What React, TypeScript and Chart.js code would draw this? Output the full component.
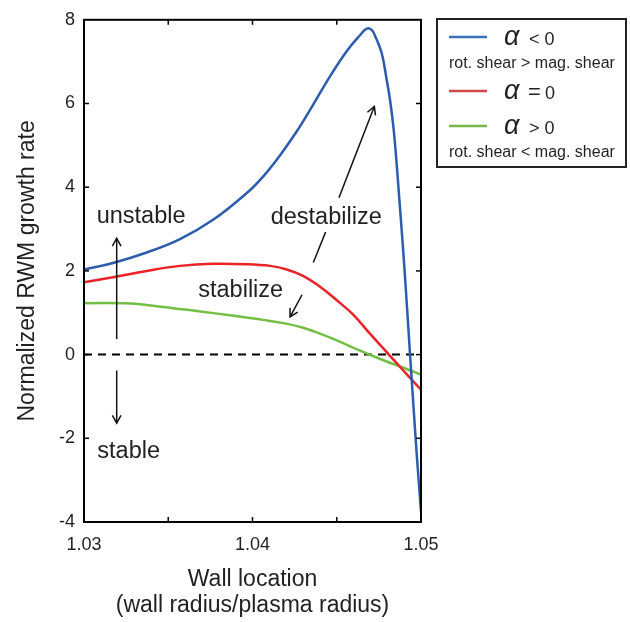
import React, { useEffect, useRef } from "react";
import { Chart, registerables } from "chart.js";

Chart.register(...registerables);

// ---- data ----
const X_BLUE = [1.03, 1.03172, 1.03372, 1.0357, 1.03766, 1.03966, 1.04064, 1.04163, 1.04262, 1.04361, 1.0446, 1.04559, 1.04638, 1.04678, 1.04707, 1.04727, 1.04767, 1.04797, 1.04816, 1.04836, 1.04852, 1.04866, 1.04895, 1.04915, 1.04935, 1.04954, 1.04974, 1.05];
const Y_BLUE = [2.03, 2.19, 2.44, 2.76, 3.22, 3.86, 4.26, 4.76, 5.33, 5.98, 6.65, 7.25, 7.63, 7.79, 7.76, 7.62, 7.2, 6.55, 6.09, 5.45, 4.74, 4.0, 2.45, 1.25, 0.0, -1.15, -2.35, -3.75];

const X_RED = [1.03, 1.03172, 1.03372, 1.0357, 1.03766, 1.03966, 1.04104, 1.04199, 1.043, 1.04401, 1.045, 1.04599, 1.04697, 1.04816, 1.04895, 1.05];
const Y_RED = [1.73, 1.85, 2.0, 2.12, 2.17, 2.16, 2.12, 2.04, 1.88, 1.62, 1.3, 0.95, 0.5, -0.03, -0.38, -0.84];

const X_GREEN = [1.03, 1.03273, 1.03469, 1.03669, 1.03866, 1.04062, 1.042, 1.043, 1.044, 1.045, 1.046, 1.047, 1.048, 1.049, 1.05];
const Y_GREEN = [1.23, 1.22, 1.14, 1.04, 0.94, 0.83, 0.74, 0.64, 0.5, 0.34, 0.16, -0.01, -0.17, -0.32, -0.48];

const X_ZERO = [1.03, 1.05];
const Y_ZERO = [0, 0];

const X_MIN = 1.03;
const X_MAX = 1.05;
const X_STEP = 0.005;
const Y_MIN = -4;
const Y_MAX = 8;
const Y_STEP = 2;

const X_TITLE = ["Wall location", "(wall radius/plasma radius)"];
const Y_TITLE = "Normalized RWM growth rate";

const SERIES_NAMES = ["< 0", "=0", "> 0"];
const SERIES_NOTES = ["rot. shear > mag. shear", "", "rot. shear < mag. shear"];
const SERIES_COLORS = ["#2b5cae", "#ec2227", "#72bf44"];
const LEGEND_COLORS = ["#3a72b8", "#d0484a", "#7ab648"];

// annotations in data coordinates
const TEXT_NOTES = [
  { text: "unstable", x: 1.03075, y: 3.15 },
  { text: "stable", x: 1.03079, y: -2.48 },
  { text: "destabilize", x: 1.04108, y: 3.11 },
  { text: "stabilize", x: 1.03678, y: 1.38 },
];
// [x1, y1, x2, y2, head]
const ARROWS = [
  [1.03194, 0.37, 1.03194, 2.78, 1],
  [1.03194, -0.38, 1.03194, -1.64, 1],
  [1.04361, 2.2, 1.04434, 2.93, 0],
  [1.04513, 3.75, 1.04723, 5.93, 1],
  [1.04294, 1.43, 1.04223, 0.9, 1],
];

const TEXT_COLOR = "#231f20";
const FONT = '"Liberation Sans", Arial, sans-serif';

function zip(xs: number[], ys: number[]) {
  return xs.map((x, i) => ({ x, y: ys[i] }));
}

const overlayPlugin = {
  id: "overlay",
  afterDraw(chart: any) {
    const { ctx, chartArea: a, scales } = chart;
    const xs = scales.x;
    const ys = scales.y;
    ctx.save();
    ctx.strokeStyle = "#000";
    ctx.lineWidth = 1.5;
    const seg = (x1: number, y1: number, x2: number, y2: number) => {
      ctx.beginPath();
      ctx.moveTo(x1, y1);
      ctx.lineTo(x2, y2);
      ctx.stroke();
    };
    const tl = 5;
    xs.ticks.forEach((t: any) => {
      const p = xs.getPixelForValue(t.value);
      if (p > a.left + 1 && p < a.right - 1) {
        seg(p, a.bottom, p, a.bottom - tl);
        seg(p, a.top, p, a.top + tl);
      }
    });
    ys.ticks.forEach((t: any) => {
      const p = ys.getPixelForValue(t.value);
      if (p > a.top + 1 && p < a.bottom - 1) {
        seg(a.left, p, a.left + tl, p);
        seg(a.right, p, a.right - tl, p);
      }
    });
    ctx.lineWidth = 2;
    ctx.strokeRect(a.left, a.top, a.right - a.left, a.bottom - a.top);

    // annotations
    ctx.fillStyle = TEXT_COLOR;
    ctx.font = "23.5px " + FONT;
    ctx.textBaseline = "alphabetic";
    ctx.textAlign = "left";
    TEXT_NOTES.forEach((n) => {
      ctx.fillText(n.text, xs.getPixelForValue(n.x), ys.getPixelForValue(n.y));
    });
    ctx.strokeStyle = "#111";
    ctx.lineWidth = 1.5;
    ARROWS.forEach(([x1, y1, x2, y2, head]) => {
      const px1 = xs.getPixelForValue(x1);
      const py1 = ys.getPixelForValue(y1);
      const px2 = xs.getPixelForValue(x2);
      const py2 = ys.getPixelForValue(y2);
      seg(px1, py1, px2, py2);
      if (head) {
        const ang = Math.atan2(py2 - py1, px2 - px1);
        const L = 9;
        const w = 0.5;
        ctx.beginPath();
        ctx.moveTo(px2 - L * Math.cos(ang - w), py2 - L * Math.sin(ang - w));
        ctx.lineTo(px2, py2);
        ctx.lineTo(px2 - L * Math.cos(ang + w), py2 - L * Math.sin(ang + w));
        ctx.stroke();
      }
    });

    // legend box
    ctx.strokeStyle = "#222";
    ctx.lineWidth = 2;
    ctx.strokeRect(437, 19, 189, 148);
    const rowY = [37, 91, 126];
    const baseY = [45, 99, 134];
    const noteY = [68, 0, 157];
    for (let i = 0; i < 3; i++) {
      ctx.strokeStyle = LEGEND_COLORS[i];
      ctx.lineWidth = 2.5;
      seg(449, rowY[i], 487, rowY[i]);
      ctx.fillStyle = TEXT_COLOR;
      ctx.font = "italic 27px " + FONT;
      ctx.fillText("\u03b1", 504, baseY[i]);
      const s = SERIES_NAMES[i];
      if (s[0] === "=") {
        ctx.font = "22px " + FONT;
        ctx.fillText("=", 528, baseY[i]);
        ctx.font = "18px " + FONT;
        ctx.fillText(s.slice(1), 545, baseY[i]);
      } else {
        ctx.font = "18px " + FONT;
        ctx.fillText(s, 529, baseY[i]);
      }
      if (SERIES_NOTES[i]) {
        ctx.font = "16px " + FONT;
        ctx.fillText(SERIES_NOTES[i], 449, noteY[i]);
      }
    }
    ctx.restore();
  },
};

export default function App() {
  const ref = useRef<HTMLCanvasElement | null>(null);
  useEffect(() => {
    if (!ref.current) return;
    const common = {
      fill: false,
      pointRadius: 0,
      pointHoverRadius: 0,
      tension: 0.4,
    };
    const chart = new Chart(ref.current, {
      type: "line",
      data: {
        datasets: [
          { ...common, label: "blue", data: zip(X_BLUE, Y_BLUE), borderColor: SERIES_COLORS[0], borderWidth: 2.5 },
          { ...common, label: "red", data: zip(X_RED, Y_RED), borderColor: SERIES_COLORS[1], borderWidth: 2.5 },
          { ...common, label: "green", data: zip(X_GREEN, Y_GREEN), borderColor: SERIES_COLORS[2], borderWidth: 2.5 },
          { ...common, label: "zero", data: zip(X_ZERO, Y_ZERO), borderColor: "#000", borderWidth: 2, borderDash: [8, 6], tension: 0 },
        ],
      },
      options: {
        animation: false,
        responsive: false,
        maintainAspectRatio: false,
        events: [],
        layout: { padding: { left: 0, right: 209, top: 18, bottom: 0 } },
        plugins: { legend: { display: false }, tooltip: { enabled: false } },
        scales: {
          x: {
            type: "linear",
            min: X_MIN,
            max: X_MAX,
            grid: { display: false, drawTicks: false },
            border: { display: false },
            afterFit: (s: any) => {
              s.height = 100;
            },
            ticks: {
              stepSize: X_STEP,
              autoSkip: false,
              maxRotation: 0,
              padding: 12,
              color: TEXT_COLOR,
              font: { family: FONT, size: 18 },
              callback: (v: any) => {
                const n = Number(v) * 100;
                return Math.abs(n - Math.round(n)) < 1e-6 ? Number(v).toFixed(2) : "";
              },
            },
            title: {
              display: true,
              text: X_TITLE,
              color: TEXT_COLOR,
              font: { family: FONT, size: 23, lineHeight: 1.1 },
              padding: { top: 0, bottom: 4 },
            },
          },
          y: {
            type: "linear",
            min: Y_MIN,
            max: Y_MAX,
            grid: { display: false, drawTicks: false },
            border: { display: false },
            afterFit: (s: any) => {
              s.width = 84;
            },
            ticks: {
              stepSize: Y_STEP,
              autoSkip: false,
              padding: 9,
              color: TEXT_COLOR,
              font: { family: FONT, size: 18 },
            },
            title: {
              display: true,
              text: Y_TITLE,
              color: TEXT_COLOR,
              font: { family: FONT, size: 23, lineHeight: 1.1 },
              padding: { top: 15, bottom: 0 },
            },
          },
        },
      },
      plugins: [overlayPlugin],
    });
    return () => chart.destroy();
  }, []);
  return (
    <div style={{ position: "absolute", left: 0, top: 0, width: 630, height: 622, background: "#fff" }}>
      <canvas ref={ref} width={630} height={622} style={{ display: "block" }} />
    </div>
  );
}
